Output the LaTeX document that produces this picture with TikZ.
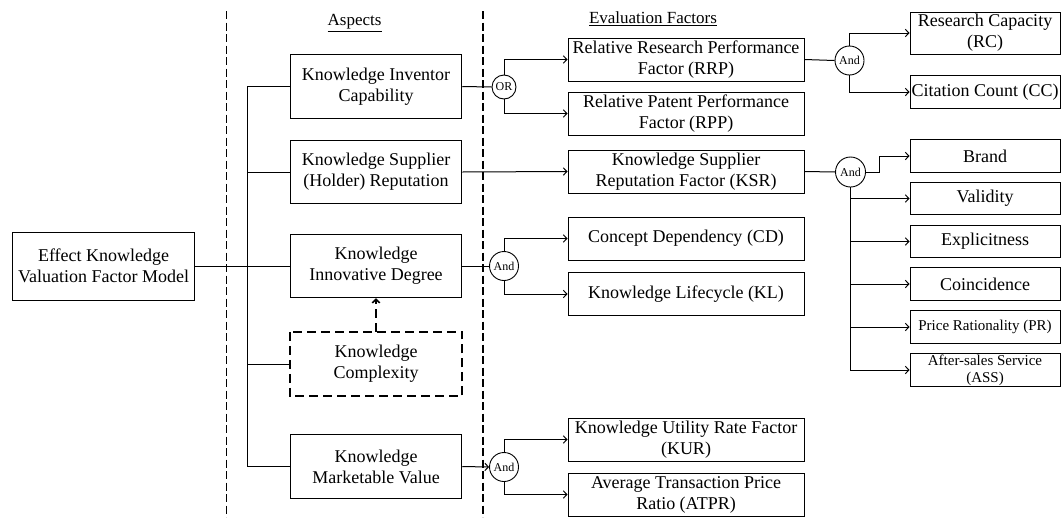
\documentclass[tikz,border=0pt]{standalone}
\usepackage{fontspec}
\setmainfont{Liberation Serif}
\usetikzlibrary{arrows.meta}
\begin{document}
\begin{tikzpicture}[x=1pt,y=-1pt,
  line width=1pt,
  box/.style={draw, line width=1pt, inner sep=0pt, align=center, font=\fontsize{18}{21}\selectfont},
  asp/.style={box, minimum width=171.5pt, minimum height=63.5pt},
  fac/.style={box, minimum width=236pt, minimum height=43pt},
  rgt/.style={box, minimum width=150pt, minimum height=32.5pt},
  small/.style={font=\fontsize{15}{17}\selectfont},
  gate/.style={draw, circle, line width=0.9pt, inner sep=0pt, font=\fontsize{12}{12}\selectfont},
  arr/.style={-{Straight Barb[length=3.5pt,width=7.5pt]}},
  sep/.style={line width=1.8pt, dash pattern=on 8pt off 3.5pt},
  dbox/.style={line width=1.6pt, dash pattern=on 9pt off 5pt},
  title/.style={font=\fontsize{17}{20}\selectfont, inner sep=0pt}
]
\useasboundingbox (0,0) rectangle (1062,517);
\clip (0,0) rectangle (1062,517);

% separators
\draw[sep] (226.5,11) -- (226.5,517);
\draw[sep] (483,11) -- (483,517);

% titles
\node[title] (tasp) at (354.6,23) {\underline{Aspects}};
\node[title] (tef) at (653,19) {\underline{Evaluation Factors}};

% main
\node[box, minimum width=182pt, minimum height=68pt] (main) at (103.6,266) {Effect Knowledge\\Valuation Factor Model};

% aspects
\node[asp] (KIC) at (376,86.5) {Knowledge Inventor\\Capability};
\node[asp] (KSR) at (376,172) {Knowledge Supplier\\(Holder) Reputation};
\node[asp] (KID) at (376,266) {Knowledge\\Innovative Degree};
\node[asp, draw=none] (KC) at (376,364) {Knowledge\\Complexity};
\draw[dbox] (KC.north west) rectangle (KC.south east);
\node[asp] (KMV) at (376,466.5) {Knowledge\\Marketable Value};

% factors
\node[fac] (RRP) at (686,59.5) {Relative Research Performance\\Factor (RRP)};
\node[fac] (RPP) at (686,113.5) {Relative Patent Performance\\Factor (RPP)};
\node[fac] (KSRF) at (686,171.5) {Knowledge Supplier\\Reputation Factor (KSR)};
\node[fac] (CD) at (686,238.5) {Concept Dependency (CD)};
\node[fac] (KL) at (686,294) {Knowledge Lifecycle (KL)};
\node[fac] (KUR) at (686,439.5) {Knowledge Utility Rate Factor\\(KUR)};
\node[fac] (ATPR) at (686,494.5) {Average Transaction Price\\Ratio (ATPR)};

% right column
\node[rgt, minimum height=42pt] (RC) at (985,33) {Research Capacity\\(RC)};
\node[rgt] (CC) at (985,92) {Citation Count (CC)};
\node[rgt] (Brand) at (985,156) {Brand};
\node[rgt] (Val) at (985,198.5) {Validity};
\node[rgt] (Exp) at (985,241.5) {Explicitness};
\node[rgt] (Coin) at (985,284) {Coincidence};
\node[rgt, small] (PR) at (985,327) {Price Rationality (PR)};
\node[rgt, small] (ASS) at (985,370) {After-sales Service\\(ASS)};

% gates
\node[gate, minimum size=24pt] (OR) at (504,87) {OR};
\node[gate, minimum size=29pt] (G2) at (504,266) {And};
\node[gate, minimum size=29pt] (G3) at (504,467) {And};
\node[gate, minimum size=29pt] (G4) at (849.5,60.5) {And};
\node[gate, minimum size=30pt] (G5) at (850.5,172) {And};

% main trunk
\draw (main.east) -- (KID.west);
\draw (KIC.west) -- ++(-42.3,0) |- (KMV.west);
\draw (KSR.west) -- ++(-42.3,0);
\draw (KC.west) -- ++(-42.3,0);
\draw[dbox, arr] (KC.north) -- (KID.south);

% aspects to factors
\draw (KIC.east) -- (OR.west);
\draw[arr] (OR.north) |- (RRP.west);
\draw[arr] (OR.south) |- (RPP.west);
\draw[arr] (KSR.east) -- (KSRF.west);
\draw (KID.east) -- (G2.west);
\draw[arr] (G2.north) |- (CD.west);
\draw[arr] (G2.south) |- (KL.west);
\draw[arr] (KMV.east) -- (G3.west);
\draw[arr] (G3.north) |- (KUR.west);
\draw[arr] (G3.south) |- (ATPR.west);

% factors to sub-factors
\draw (RRP.east) -- (G4.west);
\draw[arr] (G4.north) |- (RC.west);
\draw[arr] (G4.south) |- (CC.west);
\draw (KSRF.east) -- (G5.west);
\draw[arr] (G5.east) -- ++(14,0) |- (Brand.west);
\draw[arr] (G5.south) |- (Val.west);
\draw[arr] (G5.south) |- (Exp.west);
\draw[arr] (G5.south) |- (Coin.west);
\draw[arr] (G5.south) |- (PR.west);
\draw[arr] (G5.south) |- (ASS.west);
\end{tikzpicture}
\end{document}
